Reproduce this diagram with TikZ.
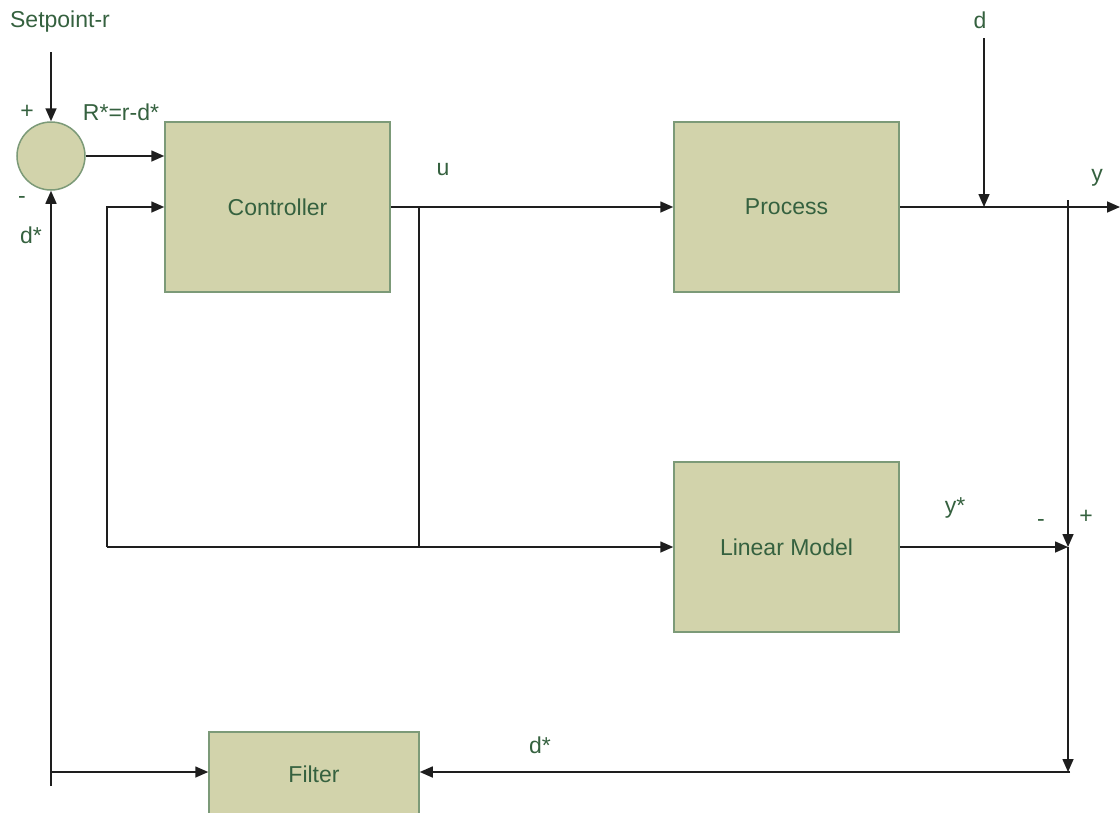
\documentclass[tikz,border=0pt]{standalone}
\usepackage{fontspec}
\setmainfont{Liberation Sans}
\usetikzlibrary{arrows.meta}
\definecolor{boxfill}{HTML}{D2D3AB}
\definecolor{boxline}{HTML}{7C9A78}
\definecolor{txt}{HTML}{35613F}
\definecolor{wirec}{HTML}{1E1E1E}
\begin{document}
\begin{tikzpicture}[x=1pt,y=-1pt,
  blk/.style={draw=boxline,fill=boxfill,line width=1.5pt,minimum width=225pt,minimum height=170pt,text=txt,font=\fontsize{23}{26}\selectfont,inner sep=0pt},
  lbl/.style={text=txt,font=\fontsize{23}{26}\selectfont,inner sep=0pt},
  wire/.style={draw=wirec,line width=1.6pt},
  arr/.style={wire,-{Triangle[length=13pt,width=11pt]}}]
\useasboundingbox (0,0) rectangle (1120,812);
\clip (0,0) rectangle (1120,812);
% blocks
\node[circle,draw=boxline,fill=boxfill,line width=1.5pt,minimum size=68pt,inner sep=0pt] (sum) at (51,156) {};
\node[blk] (ctrl) at (277.5,207) {Controller};
\node[blk] (proc) at (786.5,207) {Process};
\node[blk] (lin) at (786.5,547) {Linear Model};
\node[blk,minimum width=210pt,minimum height=86pt] (filt) at (314,775) {\raisebox{2pt}{Filter}};
% labels
\node[lbl] (tsp) at (60,22) {Setpoint-r};
\node[lbl] (tplus) at (27,112) {+};
\node[lbl] (tR) at (121,112) {R*=r-d*};
\node[lbl] (tminus) at (22,200) {-};
\node[lbl] (tds) at (31,235) {d*};
\node[lbl] (tu) at (443,170) {u};
\node[lbl] (td) at (980,20) {d};
\node[lbl] (ty) at (1097,178) {y};
\node[lbl] (tys) at (955,508) {y*};
\node[lbl] (tm2) at (1041,523) {-};
\node[lbl] (tp2) at (1086,517) {+};
\node[lbl] (tds2) at (540,745) {d*};
% coordinates
\coordinate (sp) at (51,52);
\coordinate (dtop) at (984,38);
\coordinate (dj) at (984,207);
\coordinate (yend) at (1120,207);
\coordinate (ytop) at (1068,200);
\coordinate (jn) at (1068,547);
\coordinate (jb) at (1068,772);
\coordinate (fr) at (1070,772);
\coordinate (br) at (419,207);
\coordinate (bl) at (419,547);
\coordinate (ll) at (107,547);
\coordinate (lt) at (107,207);
\coordinate (lb) at (51,772);
\coordinate (lbe) at (51,786);
% connectors
\draw[arr] (sp) -- (sum.north);
\draw[arr] (sum.east) -- (ctrl.west |- sum.east);
\draw[arr] (ctrl.east) -- (proc.west);
\draw[arr] (dtop) -- (dj);
\draw[arr] (proc.east) -- (yend);
\draw[wire] (br) -- (bl);
\draw[arr] (ll) -- (lin.west);
\draw[arr] (ll) -- (lt) -- (ctrl.west |- lt);
\draw[arr] (lin.east) -- (jn);
\draw[arr] (ytop) -- (jn);
\draw[arr] (jn) -- (jb);
\draw[arr] (fr) -- (filt.east |- fr);
\draw[arr] (lbe) -- (sum.south);
\draw[arr] (lb) -- (filt.west |- lb);
\end{tikzpicture}
\end{document}
